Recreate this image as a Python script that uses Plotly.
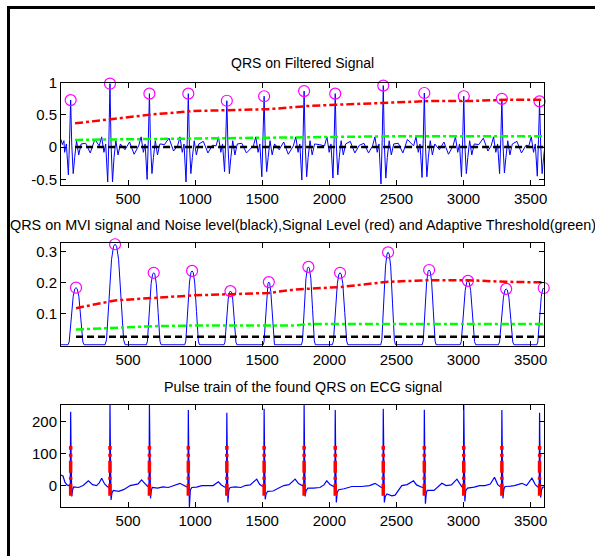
import plotly.graph_objects as go

# ---------------- data ----------------
# detected QRS locations (samples) on the filtered / raw ECG
qrs_x = [72, 365, 659, 949, 1236, 1514, 1812, 2044, 2402, 2708, 3002, 3286, 3567]
# filtered signal: R peak amplitude, negative lobe before and after each R
filt_amp = [0.73, 0.985, 0.83, 0.83, 0.72, 0.79, 0.87, 0.83, 0.955, 0.84, 0.79, 0.75, 0.71]
filt_pre = [-0.43, -0.54, -0.50, -0.54, -0.38, -0.46, -0.51, -0.48, -0.57, -0.47, -0.46, -0.41, -0.45]
filt_post = [-0.41, -0.54, -0.41, -0.41, -0.41, -0.38, -0.46, -0.43, -0.48, -0.46, -0.41, -0.40, -0.41]
# filtered signal: shape around a beat (offset in samples, value)
filt_lead_off = [-80, -62, -45, -32]
filt_lead_val = [0.02, 0.16, -0.08, 0.05]
filt_trail_off = [30, 44, 60, 78]
filt_trail_val = [-0.16, 0.10, -0.12, 0.05]
# small oscillations seen between beats on the filtered signal
filt_wiggle = [0.06, -0.09, 0.12, -0.04, 0.08, -0.11, 0.04, 0.14, -0.06, 0.09, -0.09, 0.03]
filt_start_x = [0, 10, 22]
filt_start_y = [0.12, 0.04, 0.10]

# levels on the filtered signal
lvl1_x = [105, 400, 690, 980, 1265, 1550, 1740, 1845, 2080, 2440, 2745, 3035, 3320, 3595]
sig1 = [0.37, 0.44, 0.51, 0.56, 0.57, 0.59, 0.62, 0.64, 0.66, 0.69, 0.715, 0.715, 0.735, 0.735]
thr1 = [0.113, 0.12, 0.13, 0.14, 0.145, 0.15, 0.152, 0.155, 0.16, 0.168, 0.17, 0.17, 0.17, 0.17]
noise1 = [0.004] * len(lvl1_x)

# moving-window-integrated signal: peak location, height, half width (samples)
mwi_x = [112, 403, 691, 977, 1263, 1549, 1844, 2080, 2438, 2744, 3033, 3318, 3598]
mwi_h = [0.184, 0.324, 0.232, 0.238, 0.173, 0.202, 0.251, 0.232, 0.298, 0.241, 0.206, 0.180, 0.183]
mwi_hw = [60, 75, 55, 55, 48, 42, 52, 58, 55, 52, 58, 58, 52]
hump_fx = [-1.0, -0.85, -0.6, -0.35, -0.15, 0.0, 0.15, 0.35, 0.6, 0.85, 1.0]
hump_fy = [0.0, 0.05, 0.45, 0.85, 0.98, 1.0, 0.98, 0.85, 0.45, 0.05, 0.0]

lvl2_x = [112, 330, 403, 691, 977, 1263, 1549, 1740, 1844, 2080, 2438, 2744, 3033, 3318, 3600]
sig2 = [0.118, 0.135, 0.143, 0.151, 0.159, 0.163, 0.167, 0.178, 0.181, 0.186, 0.203, 0.208, 0.208, 0.203, 0.201]
thr2 = [0.049, 0.053, 0.056, 0.060, 0.062, 0.062, 0.062, 0.062, 0.067, 0.067, 0.067, 0.067, 0.067, 0.067, 0.067]
noise2 = [0.026] * len(lvl2_x)

# raw ECG: R peak, S trough per beat, and baseline knots between beats
ecg_r = [231, 256, 256, 236, 228, 240, 256, 236, 240, 237, 256, 236, 228]
ecg_s = [-34, -45, -40, -67, -53, -43, -34, -53, -53, -57, -50, -40, -37]
ecg_bx = [0, 15, 30, 45, 58,
          95, 130, 165, 204, 235, 265, 285, 303, 325, 348,
          390, 430, 470, 515, 545, 575, 600, 625, 645,
          680, 720, 760, 800, 845, 887, 910, 935,
          975, 1010, 1050, 1100, 1134, 1173, 1195, 1222,
          1260, 1300, 1340, 1372, 1410, 1459, 1480, 1500,
          1540, 1580, 1620, 1660, 1700, 1745, 1770, 1798,
          1840, 1880, 1930, 1960, 1981, 2005, 2030,
          2070, 2110, 2168, 2240, 2300, 2341, 2365, 2388,
          2430, 2466, 2490, 2540, 2580, 2627, 2650, 2694,
          2730, 2780, 2839, 2870, 2910, 2951, 2975, 2988,
          3030, 3080, 3120, 3160, 3200, 3231, 3255, 3272,
          3310, 3350, 3380, 3435, 3470, 3510, 3535, 3553,
          3590, 3600]
ecg_by = [33, 30, 10, 2, 0,
          -4, -6, 0, 15, 3, 0, 8, 23, 5, -4,
          -15, -18, -12, 0, 3, 5, 18, 6, -3,
          -6, -8, -4, -6, 0, 7, 2, -5,
          -6, -5, 0, 0, 0, 12, 2, -5,
          -6, -4, -6, 0, 2, 20, 4, -2,
          -18, -17, -8, 0, 3, 20, 6, -2,
          -8, -8, -6, 2, 15, 3, -4,
          -13, -10, -3, -3, 0, 7, 0, -6,
          -26, -32, -30, 0, 3, 15, 2, -6,
          -15, -15, 7, 0, 2, 20, 3, -4,
          -8, -5, 0, 0, 5, 26, 3, -3,
          -3, -2, 0, 7, 0, 23, 3, -4,
          -5, -5]
pulse_lo, pulse_hi = -32, 124

x_ticks = [500, 1000, 1500, 2000, 2500, 3000, 3500]
y1_ticks = [-0.5, 0, 0.5, 1]
y1_text = ["-0.5", "0", "0.5", "1"]
y2_ticks = [0.1, 0.2, 0.3]
y2_text = ["0.1", "0.2", "0.3"]
y3_ticks = [0, 100, 200]
y3_text = ["0", "100", "200"]

titles = ["QRS on Filtered Signal",
          "QRS on MVI signal and Noise level(black),Signal Level (red) and Adaptive Threshold(green)",
          "Pulse train of the found QRS on ECG signal"]

# ---------------- build series ----------------
fx, fy = list(filt_start_x), list(filt_start_y)
for i, b in enumerate(qrs_x):
    pts = list(zip(filt_lead_off, filt_lead_val))
    pts += [(-17, filt_pre[i]), (-8, 0.12), (0, filt_amp[i]), (8, 0.05), (19, filt_post[i])]
    pts += list(zip(filt_trail_off, filt_trail_val))
    for off, v in pts:
        if b + off > filt_start_x[-1]:
            fx.append(b + off)
            fy.append(v)
    nxt = qrs_x[i + 1] if i + 1 < len(qrs_x) else 3700
    x = b + 112
    k = i * 3
    while x < nxt - 100:
        fx.append(x)
        fy.append(filt_wiggle[k % len(filt_wiggle)])
        x += 34
        k += 1

mx, my = [0], [0.0]
for c, h, hw in zip(mwi_x, mwi_h, mwi_hw):
    for a, f in zip(hump_fx, hump_fy):
        mx.append(c + a * hw)
        my.append(h * f)
mx.append(3600)
my.append(0.0)

ex, ey = [], []
j = 0
for i, b in enumerate(qrs_x):
    while j < len(ecg_bx) and ecg_bx[j] < b:
        ex.append(ecg_bx[j]); ey.append(ecg_by[j]); j += 1
    pre = ey[-1]
    post = ecg_by[j] if j < len(ecg_by) else pre
    ex += [b - 6, b - 3, b, b + 4, b + 8, b + 15]
    ey += [pre, pre - 8, ecg_r[i], 0.3 * ecg_r[i], ecg_s[i], post - 8]
while j < len(ecg_bx):
    ex.append(ecg_bx[j]); ey.append(ecg_by[j]); j += 1

px_, py_ = [], []
for b in qrs_x:
    px_ += [b, b, None]
    py_ += [pulse_lo, pulse_hi, None]

# ---------------- figure ----------------
BLUE, RED, GREEN, MAG = "#0000ff", "#ff0000", "#00ff00", "#ff00ff"
DASHDOT = "8px,3px,3px,3px"
DASH = "7px,4px"

fig = go.Figure()
# panel 1
fig.add_trace(go.Scatter(x=fx, y=fy, mode="lines", line=dict(color=BLUE, width=1), xaxis="x", yaxis="y"))
fig.add_trace(go.Scatter(x=qrs_x, y=filt_amp, mode="markers", cliponaxis=False,
                         marker=dict(symbol="circle-open", size=11, color=MAG, line=dict(width=1.2)),
                         xaxis="x", yaxis="y"))
fig.add_trace(go.Scatter(x=lvl1_x, y=noise1, mode="lines", line=dict(color="black", width=2.5, dash=DASH), xaxis="x", yaxis="y"))
fig.add_trace(go.Scatter(x=lvl1_x, y=sig1, mode="lines", line=dict(color=RED, width=2.5, dash=DASHDOT), xaxis="x", yaxis="y"))
fig.add_trace(go.Scatter(x=lvl1_x, y=thr1, mode="lines", line=dict(color=GREEN, width=2.5, dash=DASHDOT), xaxis="x", yaxis="y"))
# panel 2
fig.add_trace(go.Scatter(x=mx, y=my, mode="lines", line=dict(color=BLUE, width=1), xaxis="x2", yaxis="y2"))
fig.add_trace(go.Scatter(x=mwi_x, y=mwi_h, mode="markers", cliponaxis=False,
                         marker=dict(symbol="circle-open", size=11, color=MAG, line=dict(width=1.2)),
                         xaxis="x2", yaxis="y2"))
fig.add_trace(go.Scatter(x=lvl2_x, y=noise2, mode="lines", line=dict(color="black", width=2.5, dash=DASH), xaxis="x2", yaxis="y2"))
fig.add_trace(go.Scatter(x=lvl2_x, y=sig2, mode="lines", line=dict(color=RED, width=2.5, dash=DASHDOT), xaxis="x2", yaxis="y2"))
fig.add_trace(go.Scatter(x=lvl2_x, y=thr2, mode="lines", line=dict(color=GREEN, width=2.5, dash=DASHDOT), xaxis="x2", yaxis="y2"))
# panel 3
fig.add_trace(go.Scatter(x=ex, y=ey, mode="lines", line=dict(color=BLUE, width=1.2), xaxis="x3", yaxis="y3"))
fig.add_trace(go.Scatter(x=px_, y=py_, mode="lines", line=dict(color=RED, width=3.5, dash="12px,4px,3px,4px"),
                         connectgaps=False, xaxis="x3", yaxis="y3"))

W, H = 595, 556
L, R = 61, 544
panels = [(82.7, 185.0), (243.3, 345.7), (405.0, 507.3)]
title_y = [63.5, 224.5, 386.5]
title_size = [14, 14.4, 14.3]

FONT = "Liberation Sans, Arial, sans-serif"
axis_common = dict(showline=True, linecolor="black", linewidth=1, mirror="allticks",
                   ticks="inside", ticklen=5, tickwidth=1, tickcolor="black",
                   showgrid=False, zeroline=False, automargin=False,
                   tickfont=dict(family=FONT, size=15, color="black"))

layout = dict(width=W, height=H, margin=dict(l=0, r=0, t=0, b=0),
              paper_bgcolor="white", plot_bgcolor="white", showlegend=False)
yt = [(y1_ticks, y1_text, [-0.587, 1.0]), (y2_ticks, y2_text, [-0.003, 0.327]), (y3_ticks, y3_text, [-68, 252])]
for i, (top, bot) in enumerate(panels):
    s = "" if i == 0 else str(i + 1)
    layout["xaxis" + s] = dict(axis_common, domain=[L / W, R / W], range=[0, 3600],
                               tickvals=x_ticks, anchor="y" + s)
    layout["yaxis" + s] = dict(axis_common, domain=[1 - bot / H, 1 - top / H], range=yt[i][2],
                               tickvals=yt[i][0], ticktext=yt[i][1], anchor="x" + s)
fig.update_layout(**layout)

for t, ty, ts in zip(titles, title_y, title_size):
    fig.add_annotation(text=t, x=(L + R) / 2 / W, y=1 - ty / H, xref="paper", yref="paper",
                       xanchor="center", yanchor="middle", showarrow=False,
                       font=dict(family=FONT, size=ts, color="black"))

# outer frame (top and left edges) as filled bars
fig.add_shape(type="rect", xref="paper", yref="paper", x0=7 / W, x1=1.0, y0=1 - 9 / H, y1=1 - 6 / H,
              fillcolor="black", line=dict(width=0), layer="above")
fig.add_shape(type="rect", xref="paper", yref="paper", x0=7 / W, x1=10 / W, y0=0, y1=1 - 6 / H,
              fillcolor="black", line=dict(width=0), layer="above")

fig.write_html("out.html", config={"displayModeBar": False},
               post_script="document.body.style.margin='0';")
